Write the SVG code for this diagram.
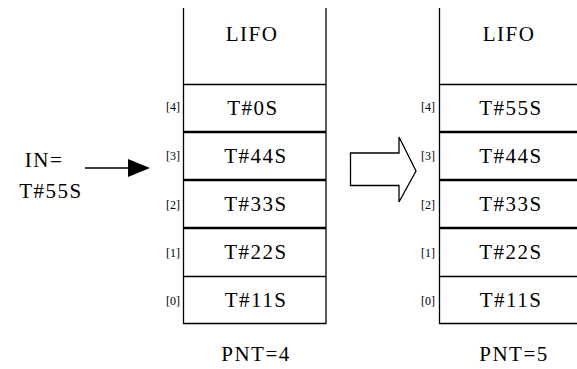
<svg xmlns="http://www.w3.org/2000/svg" width="577" height="369" viewBox="0 0 577 369" font-family="'Liberation Serif', 'DejaVu Serif', serif">
<style>
text{font-family:'Liberation Serif','DejaVu Serif',serif;fill:#000}
.t{font-size:21px;letter-spacing:1.5px;text-anchor:middle}
.i{font-size:12px;text-anchor:end}
.ln{stroke:#000;stroke-width:1.3;fill:none}
.th{stroke:#000;stroke-width:2.6;fill:none}
</style>
<rect width="577" height="369" fill="#fff"/>
<g id="stack-left">
<path class="ln" d="M183.5,8V323.5H326V8M183,84.5H326M183,276.5H326"/>
<path class="th" d="M183,132H326M183,180H326M183,228H326"/>
<text class="t" x="252" y="41">LIFO</text>
<text class="t" x="253" y="115">T#0S</text>
<text class="t" x="256" y="163">T#44S</text>
<text class="t" x="256" y="211">T#33S</text>
<text class="t" x="256" y="259">T#22S</text>
<text class="t" x="256" y="307">T#11S</text>
<text class="t" x="256" y="361">PNT=4</text>
<text class="i" x="180" y="111">[4]</text>
<text class="i" x="180" y="160">[3]</text>
<text class="i" x="180" y="209">[2]</text>
<text class="i" x="180" y="257">[1]</text>
<text class="i" x="180" y="305">[0]</text>
</g>
<g id="stack-right">
<path class="ln" d="M439.5,8V323.5H577M439,84.5H577M439,276.5H577"/>
<path class="th" d="M439,132H577M439,180H577M439,228H577"/>
<text class="t" x="509" y="41">LIFO</text>
<text class="t" x="511" y="115">T#55S</text>
<text class="t" x="511" y="163">T#44S</text>
<text class="t" x="511" y="211">T#33S</text>
<text class="t" x="511" y="259">T#22S</text>
<text class="t" x="511" y="307">T#11S</text>
<text class="t" x="514" y="361">PNT=5</text>
<text class="i" x="435" y="111">[4]</text>
<text class="i" x="435" y="160">[3]</text>
<text class="i" x="435" y="209">[2]</text>
<text class="i" x="435" y="257">[1]</text>
<text class="i" x="435" y="305">[0]</text>
</g>
<g id="input">
<text class="t" x="44" y="167">IN=</text>
<text class="t" x="51" y="198">T#55S</text>
</g>
<g id="connectors">
<path class="ln" d="M85,168H132"/>
<path d="M128,159L150,168L128,177Z" fill="#000"/>
<path class="ln" d="M399,153H350.5V185.5H399V202L416,171L399,137Z"/>
</g>
</svg>
